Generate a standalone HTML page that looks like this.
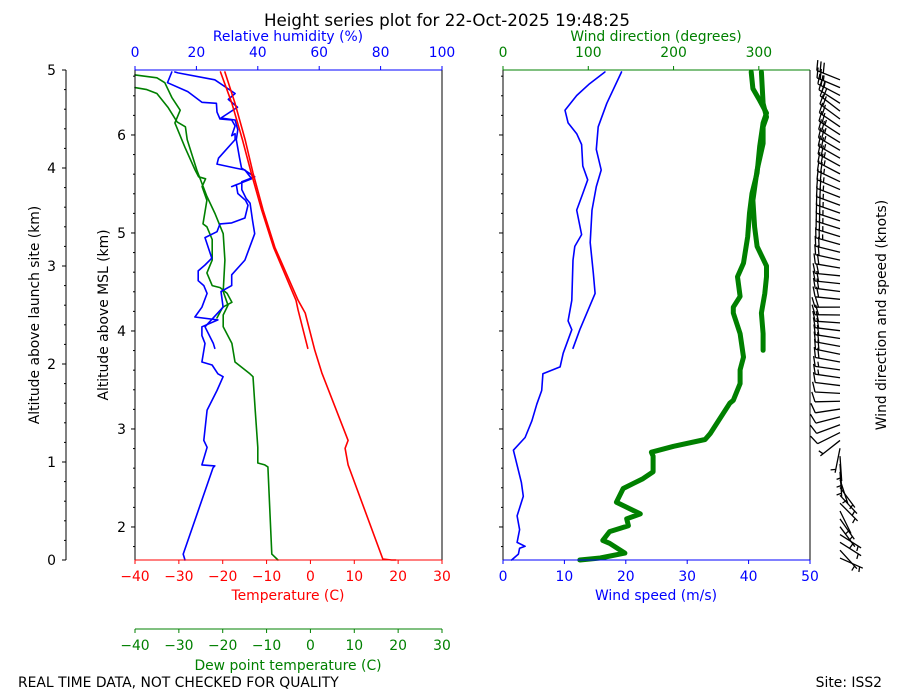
<!DOCTYPE html>
<html><head><meta charset="utf-8"><style>
body{margin:0;background:#fff}
svg{display:block;font-family:"DejaVu Sans","Liberation Sans",sans-serif}
</style></head><body>
<svg id="c" width="900" height="700" viewBox="0 0 900 700"></svg>
<script>
// ---- data (altitude above launch site in km, paired with values) ----
const tempAlt=[0,0,0.01,0.97,1.14,1.22,1.91,2.14,2.52,2.65,3.19,3.57,3.95,4.29,4.66,4.98];
const tempVal=[19.5,18.5,16.5,8.6,7.9,8.6,2.6,1.0,-1.2,-2.8,-8.1,-10.8,-13.1,-14.9,-17.2,-19.5];
const temp2Alt=[2.16,2.55,2.65,3.19,3.57,3.95,4.29,4.66,4.98];
const temp2Val=[-0.6,-2.8,-3.3,-8.4,-11.1,-13.5,-15.5,-17.9,-20.5];
const dewAlt=[0,0.06,0.95,0.97,0.99,1.15,1.53,1.87,1.9,2.02,2.21,2.38,2.5,2.6,2.74,3.06,3.33,3.54,3.71,3.98,4.29,4.42,4.47,4.62,4.76,4.8,4.82];
const dewVal=[-7.4,-8.8,-9.7,-10.4,-12,-12,-12.6,-13.1,-13.8,-17.2,-17.9,-19.9,-19.9,-18.8,-19.9,-19.5,-19.9,-21.8,-23.6,-25.9,-28.1,-28.5,-30.4,-32.5,-35,-37.3,-40];
const dew2Alt=[2.47,2.58,2.63,2.72,2.78,2.8,2.93,3.06,3.27,3.4,3.43,3.67,3.81,3.89,3.91,3.98,4.21,4.46,4.59,4.72,4.87,4.92,4.95];
const dew2Val=[-21.3,-20,-17.9,-19,-20.6,-22.4,-23.6,-22.4,-22.4,-23.6,-24.5,-23.6,-24.7,-23.9,-25.5,-26.3,-28.6,-30.9,-29.7,-31.6,-33.2,-35,-40];
const rhAlt=[0,0.06,0.94,0.96,0.97,1.15,1.22,1.53,1.73,1.87,1.9,1.99,2.02,2.21,2.29,2.38,2.45,2.48,2.58,2.72,2.8,2.85,2.95,3.01,3.08,3.29,3.35,3.43,3.44,3.49,3.62,3.67,3.74,3.83,3.81,3.89,3.98,4.0,4.04,4.1,4.29,4.35,4.33,4.43,4.49,4.5,4.57,4.66,4.67,4.78,4.87,4.98];
const rhVal=[16.3,15.7,25.4,26,21.8,23.5,22.4,23.5,26.7,28.7,27,25.1,21.8,22.8,21.8,21.8,27,19.5,21.8,23.5,22.4,20.6,20.6,22.8,25,22.8,26.7,27.7,31.5,35.8,36.8,36,33.5,33,31.5,38,35.8,32.6,26.7,27.2,32.6,32.6,31.5,32.6,31.5,27.7,26.7,26.5,21.8,17.2,10.6,12];
const rh2Alt=[2.16,2.21,2.38,2.58,2.74,2.8,2.91,3.06,3.33,3.46,3.64,3.69,3.78,3.86,3.91,4.0,4.11,4.29,4.39,4.49,4.51,4.62,4.7,4.76,4.9,4.97,4.98];
const rh2Val=[26,25.5,22.8,28.7,28,31.5,31.5,35.8,39,38.3,37.5,36.2,34.8,34.8,39,34.7,34,33,33.5,32.6,28,33.4,30.4,32.6,26,14,13];
const wsAlt=[0,0.06,0.12,0.14,0.18,0.31,0.45,0.65,0.79,1.12,1.25,1.42,1.59,1.73,1.9,1.97,2.11,2.35,2.44,2.65,3.06,3.2,3.32,3.57,3.74,3.88,4.02,4.24,4.35,4.46,4.59,4.74,4.86,4.98];
const wsVal=[1.4,2.5,2.7,3.6,2.3,2.7,2.3,3.3,3,1.7,3.6,4.7,5.5,6.3,6.5,9.3,9.8,11.2,10.6,11.2,11.4,11.7,12.8,12,13,13.8,13,12.8,12,10.6,10.1,12,14.1,16.6];
const ws2Alt=[2.16,2.35,2.72,2.93,3.24,3.57,3.81,3.98,4.19,4.42,4.66,4.98];
const ws2Val=[11.4,12.5,15,14.7,14.2,14.5,15.2,16,15.2,15.5,16.9,19.3];
const wdAlt=[0,0.02,0.07,0.17,0.2,0.29,0.35,0.42,0.47,0.59,0.73,0.83,0.9,1.06,1.1,1.16,1.23,1.29,1.6,1.63,1.8,1.94,2.07,2.31,2.52,2.58,2.69,2.89,3.03,3.3,3.54,3.74,3.95,4.22,4.46,4.56,4.69,4.81,4.98];
const wdVal=[90,114,143,125,117,125,147,145,161,133,141,164,176,176,174,200,237,243,266,270,278,278,282,278,270,270,278,275,282,287,289,292,298,301,305,309,301,293,291];
const wd2Alt=[2.14,2.31,2.52,2.72,2.89,3.0,3.2,3.4,3.67,3.98,4.25,4.42,4.52,4.66,4.98];
const wd2Val=[305,305,303,307,309,309,298,295,293,298,305,305,309,305,303];
const tempTicks=[-40,-30,-20,-10,0,10,20,30];
const rhTicks=[0,20,40,60,80,100];
const wsTicks=[0,10,20,30,40,50];
const wdTicks=[0,100,200,300];
const altTicks=[0,1,2,3,4,5];
const mslTicks=[2,3,4,5,6];
const MSL_OFFSET=1.663;

// ---- scales ----
const Y=a=>560-98*a;
const XT=t=>135+(t+40)*307/70;
const XR=r=>135+r*3.07;
const XS=s=>503+s*307/50;
const XD=d=>503+d*307/360;
const svg=document.getElementById('c');
const NS='http://www.w3.org/2000/svg';
function mk(tag,attrs,name,parent){const e=document.createElementNS(NS,tag);for(const k in attrs)e.setAttribute(k,attrs[k]);


(parent||svg).appendChild(e);return e;}
function txt(x,y,s,name,o){o=o||{};const e=mk('text',{x:x,y:y,'font-size':o.fs||13.9,fill:o.fill||'#000','text-anchor':o.anchor||'middle'},name);
if(o.rot)e.setAttribute('transform','rotate(-90 '+x+' '+y+')');e.textContent=s;return e;}
function line(x1,y1,x2,y2,c,name,w){return mk('line',{x1:x1,y1:y1,x2:x2,y2:y2,stroke:c,'stroke-width':w||1},name);}
function series(alt,val,fx,color,w,name){const d=alt.map((a,i)=>(i?'L':'M')+fx(val[i]).toFixed(1)+' '+Y(a).toFixed(1)).join('');
return mk('path',{d:d,fill:'none',stroke:color,'stroke-width':w,'stroke-linejoin':'round','stroke-linecap':'round'},name);}

series(dewAlt,dewVal,XT,'#008000',1.6,'dewpoint-line');
series(dew2Alt,dew2Val,XT,'#008000',1.6,'dewpoint-line-2');
series(rhAlt,rhVal,XR,'#0000ff',1.6,'rh-line');
series(rh2Alt,rh2Val,XR,'#0000ff',1.6,'rh-line-2');
series(tempAlt,tempVal,XT,'#ff0000',1.6,'temperature-line');
series(temp2Alt,temp2Val,XT,'#ff0000',1.6,'temperature-line-2');
series(wsAlt,wsVal,XS,'#0000ff',1.6,'wind-speed-line');
series(ws2Alt,ws2Val,XS,'#0000ff',1.6,'wind-speed-line-2');
series(wdAlt,wdVal,XD,'#008000',5,'wind-direction-line');
series(wd2Alt,wd2Val,XD,'#008000',5,'wind-direction-line-2');

line(135,70,135,560,'#000','left-panel-left-spine');
line(442,70,442,560,'#000','left-panel-right-spine');
line(135,70,442,70,'#0000ff','rh-axis-spine');
line(135,560,442,560,'#ff0000','temperature-axis-spine');
line(135,629,442,629,'#008000','dewpoint-axis-spine');
line(503,70,503,560,'#000','right-panel-left-spine');
line(810,70,810,560,'#000','right-panel-right-spine');
line(503,70,810,70,'#008000','wind-direction-axis-spine');
line(503,560,810,560,'#0000ff','wind-speed-axis-spine');
line(66,70,66,560,'#000','launch-altitude-axis-spine');

tempTicks.forEach(t=>{line(XT(t),560,XT(t),564,'#ff0000','temp-tick');txt(XT(t),581,t<0?'\u2212'+(-t):t,'temp-tick-label',{fill:'#ff0000'});
line(XT(t),629,XT(t),633,'#008000','dew-tick');txt(XT(t),650,t<0?'\u2212'+(-t):t,'dew-tick-label',{fill:'#008000'});});
rhTicks.forEach(r=>{line(XR(r),66,XR(r),70,'#0000ff','rh-tick');txt(XR(r),57,r,'rh-tick-label',{fill:'#0000ff'});});
wsTicks.forEach(s=>{line(XS(s),560,XS(s),564,'#0000ff','ws-tick');txt(XS(s),581,s,'ws-tick-label',{fill:'#0000ff'});});
wdTicks.forEach(d=>{line(XD(d),66,XD(d),70,'#008000','wd-tick');txt(XD(d),57,d,'wd-tick-label',{fill:'#008000'});});
altTicks.forEach(a=>{line(62,Y(a),66,Y(a),'#000','alt-tick');txt(56,Y(a)+5,a,'alt-tick-label',{anchor:'end'});});
for(let a=0.2;a<5;a+=0.2){if(Math.abs(a-Math.round(a))>0.05)line(64,Y(a),66,Y(a),'#000','alt-minor-tick');}
for(let m=1.8;m<=6.7;m+=0.2){const a=m-MSL_OFFSET;if(a<0||a>5)continue;const maj=Math.abs(m-Math.round(m))<0.05;
line(maj?131:133,Y(a),135,Y(a),'#000','msl-tick');line(maj?499:501,Y(a),503,Y(a),'#000','right-panel-tick');}
mslTicks.forEach(m=>txt(126,Y(m-MSL_OFFSET)+5,m,'msl-tick-label',{anchor:'end'}));

txt(447,26,'Height series plot for 22-Oct-2025 19:48:25','chart-title',{fs:16.7});
txt(288,41,'Relative humidity (%)','rh-axis-title',{fill:'#0000ff'});
txt(656,41,'Wind direction (degrees)','wd-axis-title',{fill:'#008000'});
txt(288,600,'Temperature (C)','temperature-axis-title',{fill:'#ff0000'});
txt(288,670,'Dew point temperature (C)','dewpoint-axis-title',{fill:'#008000'});
txt(656,600,'Wind speed (m/s)','wind-speed-axis-title',{fill:'#0000ff'});
txt(39,315,'Altitude above launch site (km)','launch-altitude-title',{rot:1});
txt(108,315,'Altitude above MSL (km)','msl-altitude-title',{rot:1});
txt(886,315,'Wind direction and speed (knots)','barb-axis-title',{rot:1});
txt(18,687,'REAL TIME DATA, NOT CHECKED FOR QUALITY','quality-note',{anchor:'start'});
txt(882,687,'Site: ISS2','site-label',{anchor:'end'});

function interp(alts,vals,a){for(let i=1;i<alts.length;i++){if(a<=alts[i]){const f=(a-alts[i-1])/((alts[i]-alts[i-1])||1);return vals[i-1]+f*(vals[i]-vals[i-1]);}}return vals[vals.length-1];}
const g=mk('g',{stroke:'#000','stroke-width':1.3,fill:'none'},'wind-barbs');
for(let a=0.02;a<=4.98;a+=0.08){
  const d=interp(wdAlt,wdVal,a)*Math.PI/180,kt=interp(wsAlt,wsVal,a)*1.944;
  const ox=840,oy=Y(a),L=25,ux=Math.sin(d),uy=-Math.cos(d);
  const tx=ox+ux*L,ty=oy+uy*L;
  let p='M'+ox+' '+oy+'L'+tx.toFixed(1)+' '+ty.toFixed(1);
  const px=-uy,py=ux;
  let n=Math.round(kt/5)*5,pos=0;
  while(n>=10){const bx=tx-ux*pos,by=ty-uy*pos;p+='M'+bx.toFixed(1)+' '+by.toFixed(1)+'l'+(px*10+ux*3).toFixed(1)+' '+(py*10+uy*3).toFixed(1);n-=10;pos+=3.5;}
  if(n>=5){const bx=tx-ux*(pos||3.5),by=ty-uy*(pos||3.5);p+='M'+bx.toFixed(1)+' '+by.toFixed(1)+'l'+(px*5+ux*1.5).toFixed(1)+' '+(py*5+uy*1.5).toFixed(1);}
  mk('path',{d:p},'wind-barb',g);
}
</script>
</body></html>
